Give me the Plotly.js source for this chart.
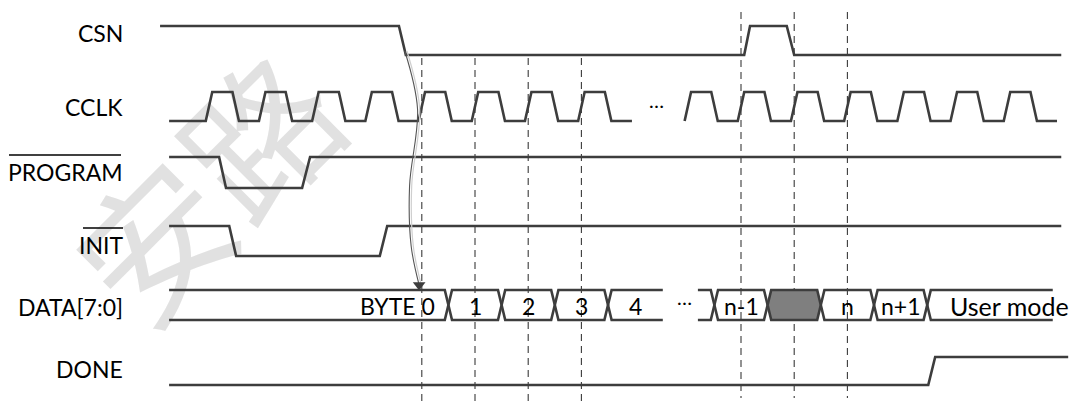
<!DOCTYPE html>
<html>
<head>
<meta charset="utf-8">
<script src="https://cdn.plot.ly/plotly-3.0.1.min.js"></script>
<style>html,body{margin:0;padding:0;background:#fff;}#chart{width:1074px;height:402px;}</style>
</head>
<body>
<div id="chart"></div>
<script>
// ---------------- DATA (time in clock cycles, levels 0/1) ----------------
const signalNames = ["CSN", "CCLK", "PROGRAM", "INIT", "DATA[7:0]", "DONE"];

const csnTimes  = [-0.92, 3.57, 3.70, 10.06, 10.17, 10.86, 11.00, 16.02];
const csnLevels = [1, 1, 0, 0, 1, 1, 0, 0];

const cclkRiseEdges = [0, 1, 2, 3, 4, 5, 6, 7, 9, 10, 11, 12, 13, 14, 15];
const cclkSectionStart = [-0.75, 8.94];
const cclkSectionEnd   = [7.95, 15.94];

const programTimes  = [-0.75, 0.19, 0.32, 1.75, 1.90, 16.02];
const programLevels = [1, 1, 0, 0, 1, 1];

const initTimes  = [-0.75, 0.38, 0.51, 3.21, 3.35, 16.02];
const initLevels = [1, 1, 0, 0, 1, 1];

const busSectionStart = [-0.75, 9.19];
const busSectionEnd   = [8.53, 15.86];
const busTransitions  = [4.5, 5.5, 6.5, 7.5, 9.5, 10.5, 11.5, 12.5, 13.5];
const busLabels = ["BYTE 0", "1", "2", "3", "4", "", "n-1", "", "n", "n+1", "User mode"];
const busUndefined = [false, false, false, false, false, false, false, true, false, false, false];

const doneTimes  = [-0.75, 13.52, 13.65, 16.15];
const doneLevels = [0, 0, 1, 1];

const markerEdges = [4, 5, 6, 7, 10, 11, 12];
const gapText = "…";
const watermarkText = "安路";

// ---------------- LAYOUT / STYLE ----------------
const W = 1074, H = 402;
const T0 = 209, PER = 53.2;                 // pixel of cycle 0 and pixels per cycle
const xRange = [-T0 / PER, (W - T0) / PER];
const ROW = {                               // [high y, low y] in pixel space
  "CSN": [26, 55], "CCLK": [92, 121], "PROGRAM": [157, 188],
  "INIT": [226, 256], "DATA[7:0]": [290, 320], "DONE": [357, 385]
};
const LABEL_Y = {"CSN": 33, "CCLK": 107, "PROGRAM": 172, "INIT": 245, "DATA[7:0]": 307, "DONE": 369};
const LINE = '#3d3d3d', LW = 2.6;
const FONT = 'Lato, "Open Sans", sans-serif';
const EDGE = 0.122, HIGHW = 0.38, HX = 0.068;
const px = v => (v - T0) / PER;

function yOf(name, lvl) { const r = ROW[name]; return r[1] - lvl * (r[1] - r[0]); }

const traces = [];
function addWave(name, times, levels) {
  traces.push({x: times, y: levels.map(l => yOf(name, l)), mode: 'lines',
    line: {color: LINE, width: LW}, hoverinfo: 'skip'});
}

// dashed reference lines
(function () {
  const xs = [], ys = [];
  markerEdges.forEach(t => {
    const top = t < 9 ? ROW["CSN"][1] + 3 : ROW["CSN"][0] - 14;
    const bot = t < 9 ? H : H - 4;
    xs.push(t, t, null); ys.push(top, bot, null);
  });
  traces.push({x: xs, y: ys, mode: 'lines', line: {color: '#3a3a3a', width: 1.1, dash: '7px,5px'}, hoverinfo: 'skip'});
})();

addWave("CSN", csnTimes, csnLevels);

// CCLK
(function () {
  const xs = [], ys = [];
  for (let s = 0; s < cclkSectionStart.length; s++) {
    const a = cclkSectionStart[s], b = cclkSectionEnd[s];
    xs.push(a); ys.push(yOf("CCLK", 0));
    cclkRiseEdges.filter(k => k > a && k < b).forEach(k => {
      xs.push(k - EDGE / 2, k + EDGE / 2, k + EDGE / 2 + HIGHW, k + 1.5 * EDGE + HIGHW);
      ys.push(yOf("CCLK", 0), yOf("CCLK", 1), yOf("CCLK", 1), yOf("CCLK", 0));
    });
    xs.push(b, null); ys.push(yOf("CCLK", 0), null);
  }
  traces.push({x: xs, y: ys, mode: 'lines', line: {color: LINE, width: LW}, hoverinfo: 'skip'});
})();

addWave("PROGRAM", programTimes, programLevels);
addWave("INIT", initTimes, initLevels);

// DATA bus
const busSegs = [];
(function () {
  const top = ROW["DATA[7:0]"][0], bot = ROW["DATA[7:0]"][1], mid = (top + bot) / 2;
  for (let s = 0; s < busSectionStart.length; s++) {
    const a = busSectionStart[s], b = busSectionEnd[s];
    const tr = busTransitions.filter(t => t > a && t < b);
    const edges = [a].concat(tr, [b]);
    for (let i = 0; i < edges.length - 1; i++) busSegs.push([edges[i], edges[i + 1], i > 0, i < edges.length - 2]);
  }
  busSegs.forEach((sg, i) => {
    const [a, b, closedL, closedR] = sg;
    if (!closedL || !closedR) {
      const ox = [], oy = [];
      if (closedL) { ox.push(a); oy.push(mid); ox.push(a + HX); oy.push(top); }
      else { ox.push(a); oy.push(top); }
      if (closedR) { ox.push(b - HX, b, b - HX); oy.push(top, mid, bot); }
      else { ox.push(b, null, b); oy.push(top, null, bot); }
      if (closedL) { ox.push(a + HX, a); oy.push(bot, mid); }
      else { ox.push(a); oy.push(bot); }
      traces.push({x: ox, y: oy, mode: 'lines', line: {color: LINE, width: LW}, hoverinfo: 'skip'});
    } else {
      const xs = [a, a + HX, b - HX, b, b - HX, a + HX, a];
      const ys = [mid, top, top, mid, bot, bot, mid];
      traces.push({x: xs, y: ys, mode: 'lines', fill: busUndefined[i] ? 'toself' : 'none',
        fillcolor: '#7f7f7f', line: {color: LINE, width: LW}, hoverinfo: 'skip'});
    }
  });
})();

addWave("DONE", doneTimes, doneLevels);

// arrow from CSN falling edge to DATA BYTE 0
(function () {
  const t0 = csnTimes[2], y0 = yOf("CSN", 0) - 4;
  const t1 = markerEdges[0] - 0.05, y1 = ROW["DATA[7:0]"][0] - 5;
  const xs = [t0 - 0.02, t0 + 0.22, t0 + 0.07, t0 + 0.10, t1];
  const ys = [y0, y0 + 58, y0 + 135, y0 + 195, y1];
  traces.push({x: xs.map(v => v + 0.04), y: ys, mode: 'lines', line: {color: '#cfcfcf', width: 1.2, shape: 'spline'}, hoverinfo: 'skip'});
  traces.push({x: xs, y: ys, mode: 'lines', line: {color: '#555', width: 1.1, shape: 'spline'}, hoverinfo: 'skip'});
  traces.push({x: [t1], y: [y1], mode: 'markers', marker: {symbol: 'triangle-down', size: 11, color: '#3d3d3d'}, hoverinfo: 'skip'});
})();

// ---------------- ANNOTATIONS ----------------
const ann = [];
const labelX = px(125);
signalNames.forEach(n => ann.push({x: labelX, y: LABEL_Y[n], xref: 'x', yref: 'y', text: n, showarrow: false,
  xanchor: 'right', yanchor: 'middle', font: {family: FONT, size: 23, color: '#000'}}));

busSegs.forEach((sg, i) => {
  const txt = busLabels[i]; if (!txt) return;
  let x = (sg[0] + sg[1]) / 2, xa = 'center', fs = 23;
  if (i === 0) { x = sg[1] - 0.22; xa = 'right'; }
  else if (i === busSegs.length - 1) { x = sg[0] + 0.4; xa = 'left'; fs = 25; }
  ann.push({x: x, y: 306, xref: 'x', yref: 'y', text: txt, showarrow: false, xanchor: xa, yanchor: 'middle',
    font: {family: FONT, size: fs, color: '#000'}});
});
ann.push({x: (cclkSectionEnd[0] + cclkSectionStart[1]) / 2 - 0.03, y: 100, xref: 'x', yref: 'y', text: gapText,
  showarrow: false, font: {family: FONT, size: 20, color: '#000'}});
ann.push({x: (busSectionEnd[0] + busSectionStart[1]) / 2 + 0.08, y: 297, xref: 'x', yref: 'y', text: gapText,
  showarrow: false, font: {family: FONT, size: 20, color: '#000'}});

const shapes = [
  {type: 'line', xref: 'x', yref: 'y', x0: px(9), x1: px(121), y0: 155, y1: 155, line: {color: '#000', width: 1.5}},
  {type: 'line', xref: 'x', yref: 'y', x0: px(83), x1: px(123), y0: 228, y1: 228, line: {color: '#000', width: 1.5}},
  {type: 'rect', xref: 'x', yref: 'y', x0: px(40), x1: px(400), y0: 21, y1: 381, layer: 'below',
   line: {width: 0}, fillcolor: 'rgba(0,0,0,0)',
   label: {text: watermarkText, textangle: -45, textposition: 'middle center',
     font: {family: '"Noto Sans CJK SC"', size: 150, color: 'rgba(215,215,215,0.75)'}}}
];

const layout = {
  width: W, height: H, margin: {l: 0, r: 0, t: 0, b: 0},
  paper_bgcolor: '#fff', plot_bgcolor: '#fff', showlegend: false,
  xaxis: {range: xRange, visible: false, fixedrange: true},
  yaxis: {range: [H, 0], visible: false, fixedrange: true},
  annotations: ann, shapes: shapes
};
Plotly.newPlot('chart', traces, layout, {staticPlot: true, displayModeBar: false});
</script>
</body>
</html>
